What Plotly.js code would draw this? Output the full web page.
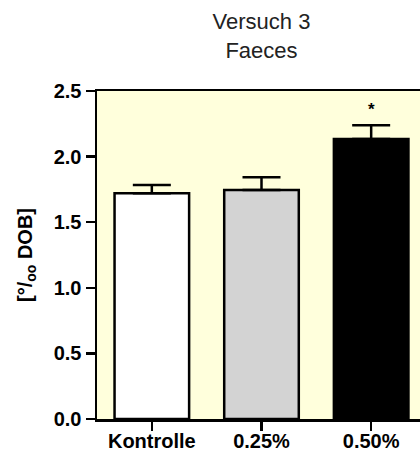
<!DOCTYPE html>
<html>
<head>
<meta charset="utf-8">
<script src="https://cdn.plot.ly/plotly-3.0.1.min.js"></script>
<style>
html, body { margin: 0; padding: 0; overflow: hidden; background: #ffffff; }
#chart { width: 440px; height: 450px; }
</style>
</head>
<body>
<div id="chart"></div>
<script>
// Data
const categories = ["Kontrolle", "0.25%", "0.50%"];
const means = [1.72, 1.745, 2.135];
const errorsUp = [0.063, 0.097, 0.103];
const errorsDown = [0, 0, 0];
const barColors = ["#ffffff", "#d3d3d3", "#000000"];
const significance = ["", "", "*"];
const yTickVals = [0, 0.5, 1.0, 1.5, 2.0, 2.5];
const yTickText = ["0.0", "0.5", "1.0", "1.5", "2.0", "2.5"];

const FONT = "Liberation Sans, Arial, Helvetica, sans-serif";

const trace = {
  type: "bar",
  x: categories,
  y: means,
  width: 0.68,
  marker: { color: barColors, line: { color: "#000000", width: 2.5 } },
  error_y: {
    type: "data",
    symmetric: false,
    array: errorsUp,
    arrayminus: errorsDown,
    color: "#000000",
    thickness: 2.5,
    width: 19
  },
  hoverinfo: "skip"
};

const annotations = [];
categories.forEach((c, i) => {
  if (significance[i]) {
    annotations.push({
      x: c, y: means[i] + errorsUp[i], xref: "x", yref: "y",
      text: significance[i], showarrow: false,
      yanchor: "bottom", yshift: 4,
      font: { family: FONT, size: 17, color: "#000000", weight: 700 }
    });
  }
});

const layout = {
  width: 440,
  height: 450,
  margin: { l: 97, r: 14, t: 91, b: 31 },
  paper_bgcolor: "#ffffff",
  plot_bgcolor: "#ffffdc",
  showlegend: false,
  title: {
    text: "Versuch 3<br>Faeces",
    font: { family: FONT, size: 22, color: "#222222" },
    x: 0.5, xref: "paper", xanchor: "center",
    y: 0.935, yref: "container", yanchor: "top"
  },
  xaxis: {
    type: "category",
    range: [-0.5, 2.5],
    showline: true, linecolor: "#000000", linewidth: 2.5, mirror: true,
    ticks: "outside", ticklen: 9, tickwidth: 2.5, tickcolor: "#000000",
    ticklabelstandoff: -7,
    showgrid: false, zeroline: false,
    tickfont: { family: FONT, size: 20, color: "#000000", weight: 700 },
    fixedrange: true
  },
  yaxis: {
    range: [0, 2.5],
    tickvals: yTickVals, ticktext: yTickText,
    showline: true, linecolor: "#000000", linewidth: 2.5, mirror: true,
    ticks: "outside", ticklen: 9, tickwidth: 2.5, tickcolor: "#000000",
    showgrid: false, zeroline: false,
    tickfont: { family: FONT, size: 20, color: "#000000", weight: 700 },
    title: {
      text: "[°/<sub>oo</sub> DOB]",
      font: { family: FONT, size: 20, color: "#000000", weight: 700 },
      standoff: 16
    },
    automargin: false,
    fixedrange: true
  },
  annotations: annotations
};

Plotly.newPlot("chart", [trace], layout, { displayModeBar: false, staticPlot: true });
</script>
</body>
</html>
